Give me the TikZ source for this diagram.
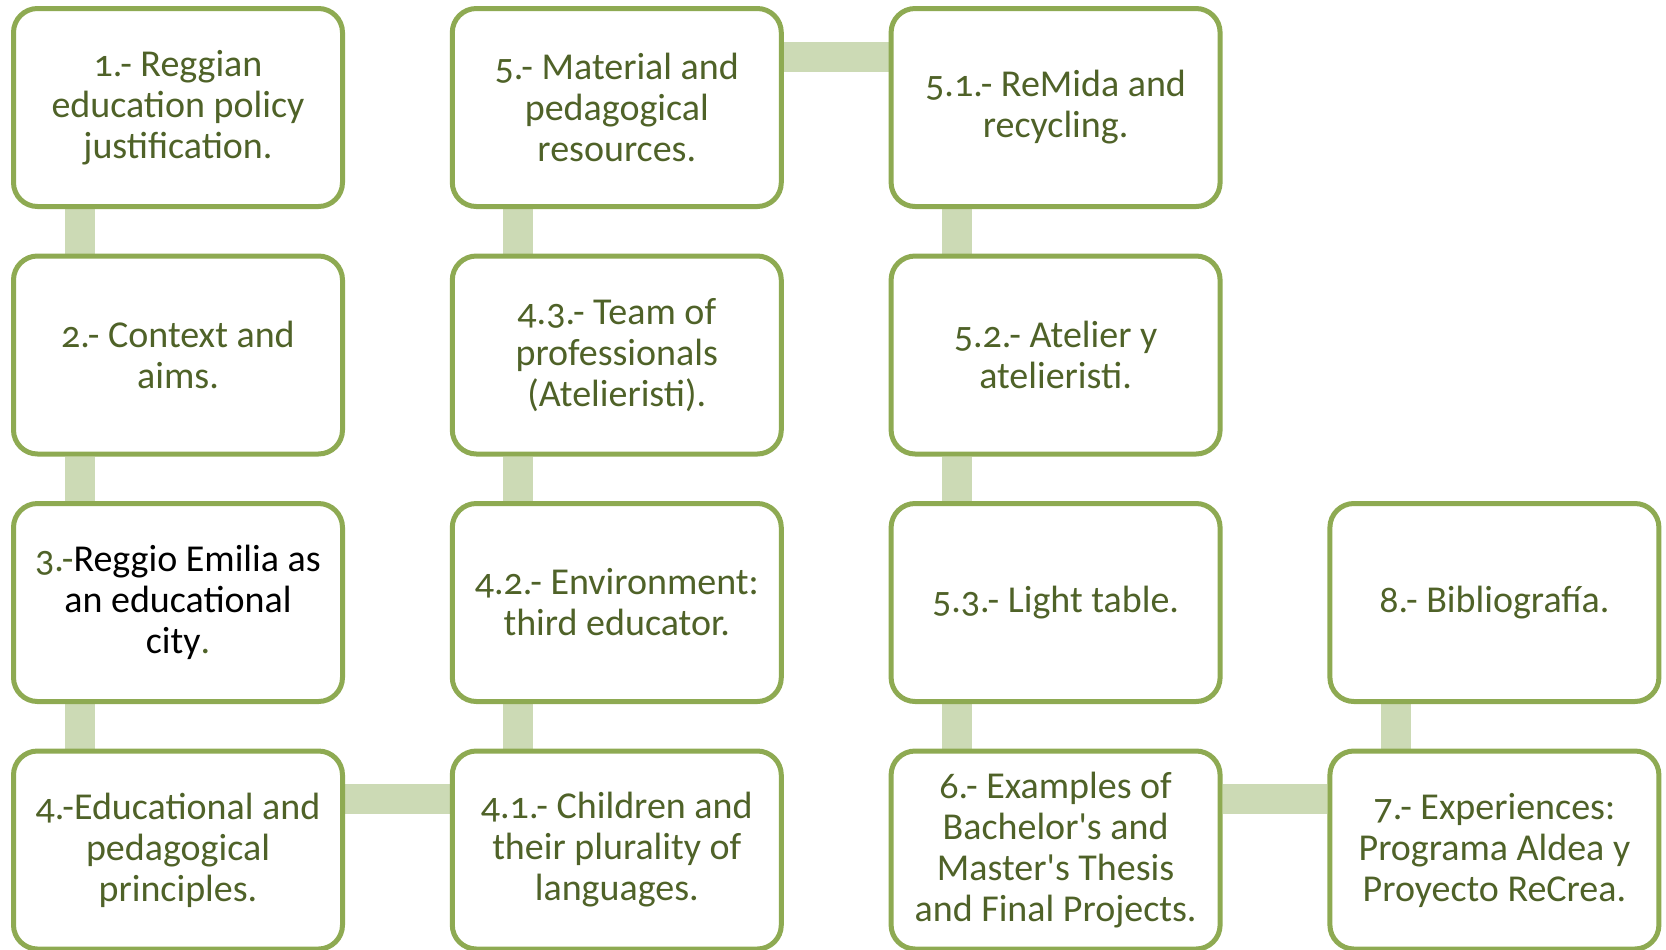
\documentclass[tikz,border=0pt]{standalone}
\usepackage{fontspec}
\setmainfont{Carlito}[Numbers=OldStyle]
\usepackage{tikz}
\usetikzlibrary{positioning,calc,backgrounds}
\definecolor{boxline}{HTML}{8EAA52}
\definecolor{linkfill}{HTML}{CCDAB5}
\definecolor{boxtext}{HTML}{4F6228}

\begin{document}
\begin{tikzpicture}[x=0.5pt,y=-0.5pt,node distance=22.25pt and 52.4pt,
  box/.style={draw=boxline,line width=2.5pt,rounded corners=12pt,fill=white,minimum width=164.5pt,minimum height=99pt,inner sep=0pt,align=center,text=boxtext,font=\fontsize{19}{20.5}\selectfont},
  link/.style={draw=linkfill,line width=15pt}]
\useasboundingbox (0,0) rectangle (1666,949);
% first column
\node[box] (b1) at (178,107.5) {1.- Reggian\\education policy\\justification.};
\node[box,below=of b1] (b2) {2.- Context and\\aims.};
\node[box,below=of b2] (b3) {3.-\textcolor{black}{Reggio Emilia as}\\\textcolor{black}{an educational}\\\textcolor{black}{city}.};
\node[box,below=of b3] (b4) {4.-Educational and\\pedagogical\\principles.};
% second column
\node[box,right=of b4] (b41) {4.1.- Children and\\their plurality of\\languages.};
\node[box,above=of b41] (b42) {4.2.- Environment:\\third educator.};
\node[box,above=of b42] (b43) {4.3.- Team of\\professionals\\(Atelieristi).};
\node[box,above=of b43] (b5) {5.- Material and\\pedagogical\\resources.};
% third column
\node[box,right=of b5] (b51) {5.1.- ReMida and\\recycling.};
\node[box,below=of b51] (b52) {5.2.- Atelier y\\atelieristi.};
\node[box,below=of b52] (b53) {5.3.- Light table.};
\node[box,below=of b53] (b6) {6.- Examples of\\Bachelor\textquotesingle s and\\Master\textquotesingle s Thesis\\and Final Projects.};
% fourth column
\node[box,right=of b6] (b7) {7.- Experiences:\\Programa Aldea y\\Proyecto ReCrea.};
\node[box,above=of b7] (b8) {8.- Bibliografía.};
% links behind the boxes
\begin{scope}[on background layer]
\draw[link]([xshift=34.25pt]b1.south west)--([xshift=34.25pt]b2.north west);
\draw[link]([xshift=34.25pt]b2.south west)--([xshift=34.25pt]b3.north west);
\draw[link]([xshift=34.25pt]b3.south west)--([xshift=34.25pt]b4.north west);
\draw[link]([yshift=-25.25pt]b4.north east)--([yshift=-25.25pt]b41.north west);
\draw[link]([xshift=34.25pt]b41.north west)--([xshift=34.25pt]b42.south west);
\draw[link]([xshift=34.25pt]b42.north west)--([xshift=34.25pt]b43.south west);
\draw[link]([xshift=34.25pt]b43.north west)--([xshift=34.25pt]b5.south west);
\draw[link]([yshift=-25.25pt]b5.north east)--([yshift=-25.25pt]b51.north west);
\draw[link]([xshift=34.25pt]b51.south west)--([xshift=34.25pt]b52.north west);
\draw[link]([xshift=34.25pt]b52.south west)--([xshift=34.25pt]b53.north west);
\draw[link]([xshift=34.25pt]b53.south west)--([xshift=34.25pt]b6.north west);
\draw[link]([yshift=-25.25pt]b6.north east)--([yshift=-25.25pt]b7.north west);
\draw[link]([xshift=34.25pt]b7.north west)--([xshift=34.25pt]b8.south west);
\end{scope}
\end{tikzpicture}
\end{document}
